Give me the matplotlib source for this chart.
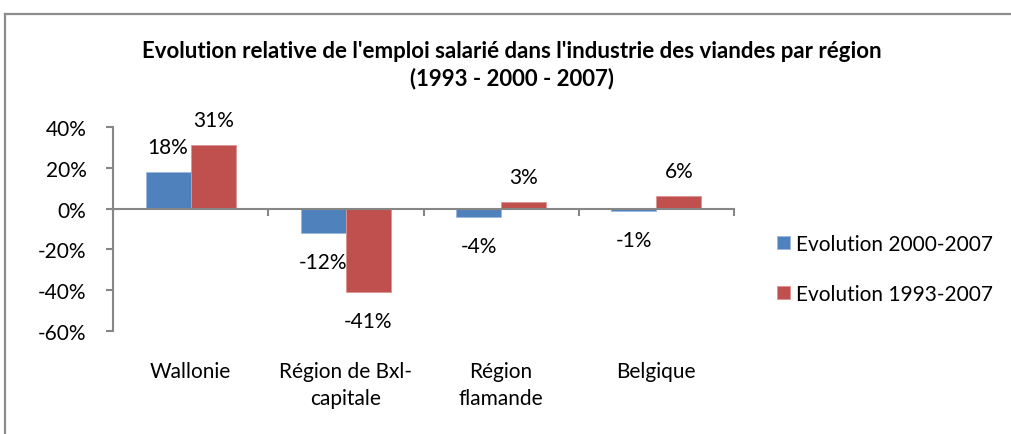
import numpy as np
import matplotlib
matplotlib.use('Agg')
import matplotlib.pyplot as plt
from matplotlib.lines import Line2D
import matplotlib.transforms as mtransforms

# ── Data ──────────────────────────────────────────────────────
regions = ["Wallonie", "Région de Bxl-\ncapitale", "Région\nflamande", "Belgique"]
evol_2000_2007 = [18, -12, -4, -1]
evol_1993_2007 = [31, -41, 3, 6]
series_names = ["Evolution 2000-2007", "Evolution 1993-2007"]

BLUE = '#4F81BD'
RED = '#C0504D'
AXIS = '#868686'
FS = 15

plt.rcParams['font.family'] = ['Lato', 'DejaVu Sans']

fig = plt.figure(figsize=(10.11, 4.35), dpi=100)
ax = fig.add_axes([113 / 1011, 103 / 435, (734 - 113) / 1011, 204 / 435])

x = np.arange(len(regions))
w = 0.29
b1 = ax.bar(x - w / 2, evol_2000_2007, w, color=BLUE, edgecolor='#9DB9DD', linewidth=0.6,
            label=series_names[0])
b2 = ax.bar(x + w / 2, evol_1993_2007, w, color=RED, edgecolor='#DC9593', linewidth=0.6,
            label=series_names[1])

# data labels, outside end
for bars, vals in ((b1, evol_2000_2007), (b2, evol_1993_2007)):
    for rect, v in zip(bars, vals):
        cx = rect.get_x() + rect.get_width() / 2
        off = 18 if v >= 0 else -21
        ax.annotate(f"{v}%", (cx, v), xytext=(0, off), textcoords='offset points',
                    ha='center', va='center', fontsize=FS, color='black')

ax.set_xlim(-0.5, 3.5)
ax.set_ylim(-60, 40)
ax.set_yticks(np.arange(-60, 41, 20))
ax.set_yticklabels([f"{t}%" for t in range(-60, 41, 20)], fontsize=FS)

ax.set_xticks(np.arange(-0.5, 3.6, 1))
ax.set_xticklabels([])

for s in ['top', 'right']:
    ax.spines[s].set_visible(False)
ax.spines['bottom'].set_position(('data', 0))
for s in ['left', 'bottom']:
    ax.spines[s].set_color(AXIS)
    ax.spines[s].set_linewidth(1.5)
ax.tick_params(axis='y', direction='out', length=5, width=1.5, color=AXIS, pad=14)
ax.tick_params(axis='x', direction='out', length=5, width=1.5, color=AXIS)

# category labels under plot area
trans = mtransforms.blended_transform_factory(ax.transData, ax.transAxes)
for i, lab in enumerate(regions):
    ax.text(i, -0.148, lab, transform=trans, ha='center', va='top',
            fontsize=FS, linespacing=1.45)

ax.legend(loc='center left', bbox_to_anchor=(777 / 1011, 1 - 270 / 435),
          bbox_transform=fig.transFigure, frameon=False, fontsize=FS,
          handlelength=0.6, handleheight=0.6, handletextpad=0.3,
          labelspacing=1.45, borderpad=0, borderaxespad=0)

fig.text(512 / 1011, 1 - 65 / 435,
         "Evolution relative de l'emploi salarié dans l'industrie des viandes par région\n(1993 - 2000 - 2007)",
         ha='center', va='center', fontsize=16, fontweight='bold', linespacing=1.35)

# chart area border (cropped)
fig.add_artist(Line2D([5 / 1011, 5 / 1011], [0, 1 - 15 / 435], transform=fig.transFigure,
                      color='#8C8C8C', linewidth=1.6))
fig.add_artist(Line2D([5 / 1011, 1], [1 - 15 / 435, 1 - 15 / 435], transform=fig.transFigure,
                      color='#8C8C8C', linewidth=1.6))

fig.savefig('out.png', dpi=100)
